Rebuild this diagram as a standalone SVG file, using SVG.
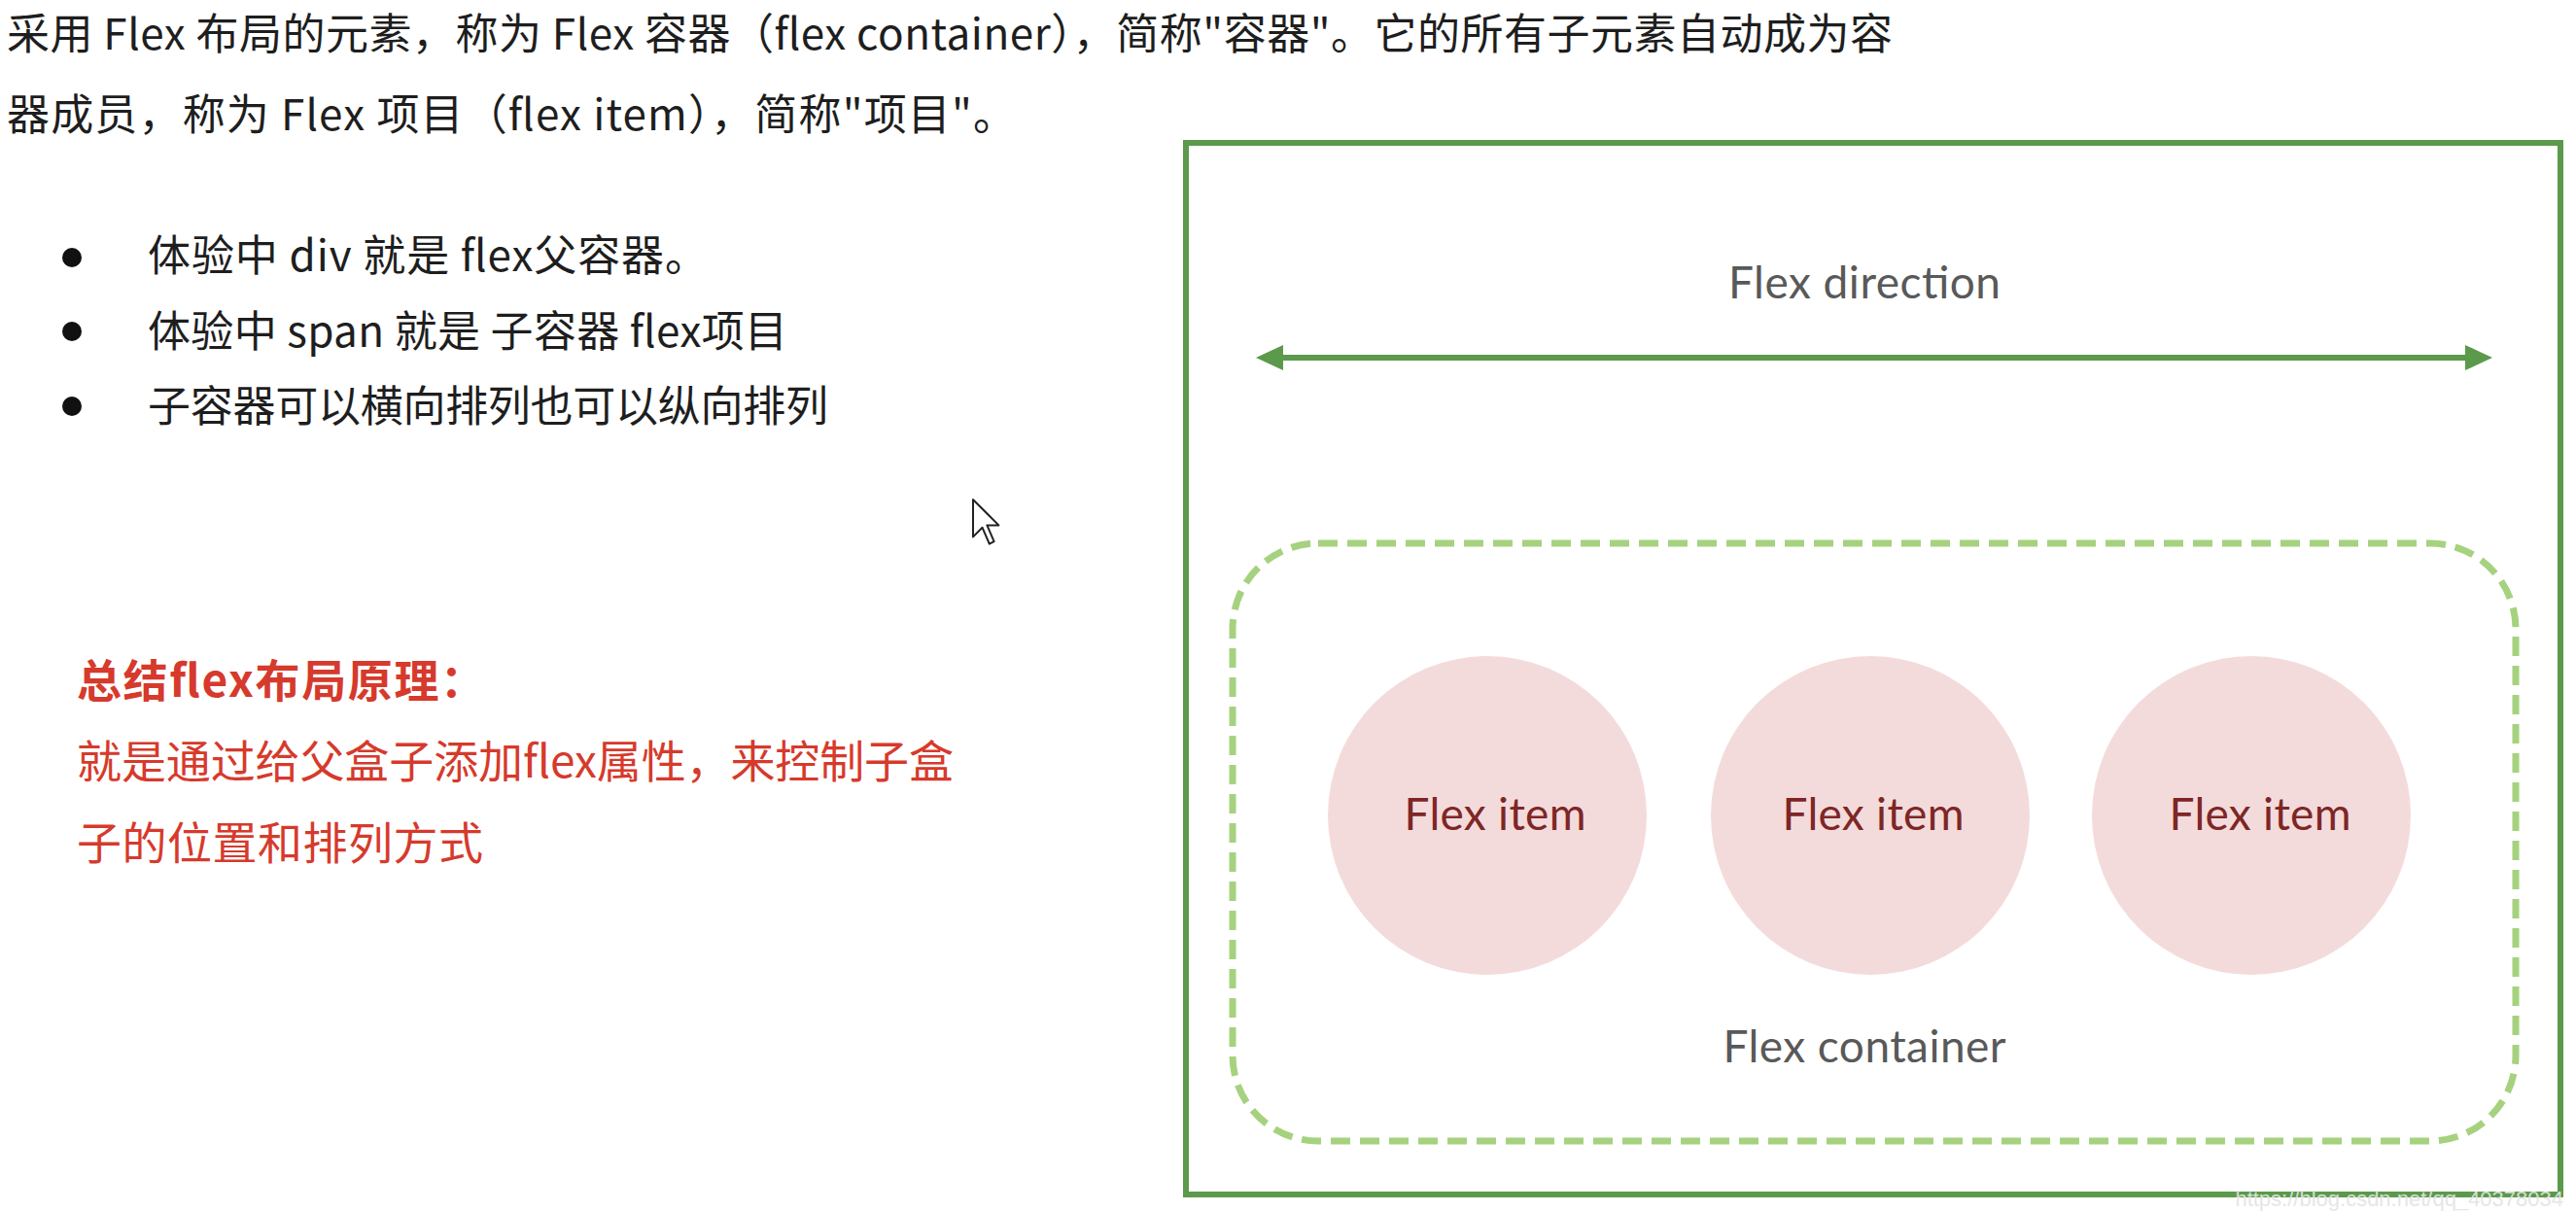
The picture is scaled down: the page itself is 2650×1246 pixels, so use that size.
<svg xmlns="http://www.w3.org/2000/svg" width="2650" height="1246" viewBox="0 0 2650 1246">
<style>
.cjk{font-family:"Noto Sans CJK SC","Noto Sans",sans-serif;font-size:44px;fill:#1e1e1e}
.red{font-family:"Noto Sans CJK SC","Noto Sans",sans-serif;font-size:46px;fill:#d63a2c}
.lbl{font-family:Lato,"Open Sans",sans-serif;font-size:46px;fill:#595959;text-anchor:middle}
.item{font-family:Lato,"Open Sans",sans-serif;font-size:46px;fill:#7e2626;text-anchor:middle}
.circ{fill:#f4dbdb}
.bullet{fill:#111}
</style>
<defs>
<marker id="ah" markerUnits="userSpaceOnUse" markerWidth="30" markerHeight="28" refX="8" refY="13" orient="auto-start-reverse">
<path d="M0,0 L28,13 L0,26 Z" fill="#5b9a4b"/>
</marker>
</defs>
<rect width="2650" height="1246" fill="#ffffff"/>

<g id="intro">
<text class="cjk" x="7" y="51" textLength="1940">采用 Flex 布局的元素，称为 Flex 容器（flex container），简称"容器"。它的所有子元素自动成为容</text>
<text class="cjk" x="7" y="134" textLength="1038">器成员，称为 Flex 项目（flex item），简称"项目"。</text>
</g>

<g id="bullets">
<circle class="bullet" cx="74" cy="265" r="10"/>
<circle class="bullet" cx="74" cy="341" r="10"/>
<circle class="bullet" cx="74" cy="418" r="10"/>
<text class="cjk" x="152" y="279" textLength="576">体验中 div 就是 flex父容器。</text>
<text class="cjk" x="152" y="357" textLength="658">体验中 span 就是 子容器 flex项目</text>
<text class="cjk" x="152" y="434" textLength="700">子容器可以横向排列也可以纵向排列</text>
</g>

<g id="summary">
<text class="red" x="79" y="717" font-weight="bold" textLength="420">总结flex布局原理：</text>
<text class="red" x="79" y="800" textLength="902">就是通过给父盒子添加flex属性，来控制子盒</text>
<text class="red" x="79" y="884" textLength="418">子的位置和排列方式</text>
</g>

<g id="cursor">
<path d="M1001,514 l0,38.4 l9.6,-9.6 l7.2,16.8 l4.8,-2.4 l-7.2,-16.8 l12,0 Z" fill="#ffffff" stroke="#222" stroke-width="2" stroke-linejoin="round"/>
</g>

<g id="outer-container">
<rect x="1220" y="147" width="1414" height="1082" fill="none" stroke="#5b9a4b" stroke-width="6"/>
<text class="lbl" x="1918" y="307" textLength="280">Flex direction</text>
</g>

<g id="connectors">
<line x1="1312" y1="368" x2="2544" y2="368" stroke="#5b9a4b" stroke-width="6" marker-start="url(#ah)" marker-end="url(#ah)"/>
</g>

<g id="flex-container">
<rect x="1268" y="559" width="1320" height="615" rx="88" ry="88" fill="none" stroke="#a6d27f" stroke-width="7" stroke-dasharray="20 10"/>
<text class="lbl" x="1918" y="1093" textLength="291">Flex container</text>
</g>

<g id="item1">
<circle class="circ" cx="1530" cy="839" r="164"/>
<text class="item" x="1538" y="854" textLength="187">Flex item</text>
</g>
<g id="item2">
<circle class="circ" cx="1924" cy="839" r="164"/>
<text class="item" x="1927" y="854" textLength="187">Flex item</text>
</g>
<g id="item3">
<circle class="circ" cx="2316" cy="839" r="164"/>
<text class="item" x="2325" y="854" textLength="187">Flex item</text>
</g>

<g id="watermark">
<text x="2637" y="1241" text-anchor="end" font-family="Liberation Sans, Arial, sans-serif" font-size="22" fill="#e4e4e4" opacity="0.9">https://blog.csdn.net/qq_40378034</text>
</g>
</svg>
